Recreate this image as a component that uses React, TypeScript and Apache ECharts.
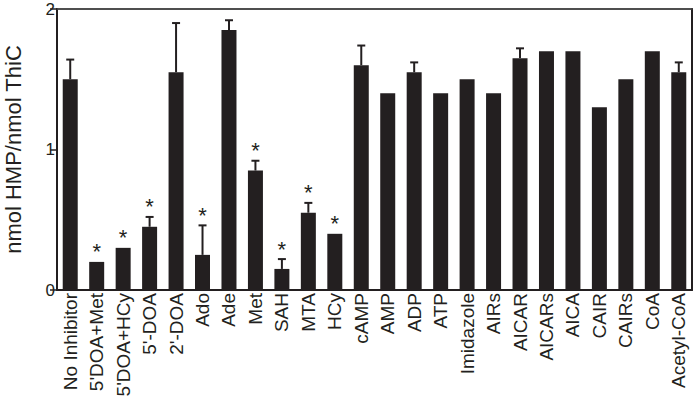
import React, { useEffect, useRef } from "react";
import * as echarts from "echarts";

const categories = [
  "No Inhibitor", "5'DOA+Met", "5'DOA+HCy", "5'-DOA", "2'-DOA", "Ado", "Ade", "Met",
  "SAH", "MTA", "HCy", "cAMP", "AMP", "ADP", "ATP", "Imidazole", "AIRs", "AICAR",
  "AICARs", "AICA", "CAIR", "CAIRs", "CoA", "Acetyl-CoA",
];
const means = [
  1.5, 0.2, 0.3, 0.45, 1.55, 0.25, 1.85, 0.85, 0.15, 0.55, 0.4, 1.6, 1.4, 1.55, 1.4,
  1.5, 1.4, 1.65, 1.7, 1.7, 1.3, 1.5, 1.7, 1.55,
];
const errors = [
  0.14, 0, 0, 0.07, 0.35, 0.21, 0.07, 0.07, 0.07, 0.07, 0, 0.14, 0, 0.07, 0, 0, 0,
  0.07, 0, 0, 0, 0, 0, 0.07,
];
const significant = [
  false, true, true, true, false, true, false, true, true, true, true, false, false,
  false, false, false, false, false, false, false, false, false, false, false,
];
const yTicks = [0, 1, 2];

const FONT = "'Liberation Sans', Arial, Helvetica, sans-serif";
const INK = "#231f20";

export default function App() {
  const ref = useRef<HTMLDivElement>(null);
  useEffect(() => {
    if (!ref.current) return;
    const chart = echarts.init(ref.current, undefined, { renderer: "svg" });
    const errData = categories.map((_, i) => [i, means[i], errors[i]]);
    const starData = categories
      .map((_, i) => [i, means[i] + errors[i], significant[i] ? 1 : 0])
      .filter((d) => d[2] === 1);
    chart.setOption({
      animation: false,
      grid: {
        left: 57,
        right: 2,
        top: 9,
        bottom: 116,
        outerBoundsMode: "none",
        containLabel: false,
        show: true,
        borderColor: "#444",
        borderWidth: 1.5,
      },
      xAxis: [
        {
          type: "category",
          data: categories,
          axisLine: { onZero: false, lineStyle: { color: INK, width: 2 } },
          axisTick: { length: 7, lineStyle: { color: INK, width: 1.5 } },
          axisLabel: {
            rotate: 90,
            interval: 0,
            margin: 3,
            fontFamily: FONT,
            fontSize: 19,
            color: INK,
          },
        },
        {
          type: "category",
          position: "top",
          data: categories,
          axisLine: { show: true, onZero: false, lineStyle: { color: "#444", width: 1.5 } },
          axisTick: { show: false },
          axisLabel: { show: false },
        },
      ],
      yAxis: [
        {
          type: "value",
          min: yTicks[0],
          max: yTicks[yTicks.length - 1],
          interval: 1,
          name: "nmol HMP/nmol ThiC",
          nameLocation: "middle",
          nameGap: 35,
          nameTextStyle: { fontFamily: FONT, fontSize: 22, lineHeight: 18, color: INK },
          axisLine: { show: true, onZero: false, lineStyle: { color: INK, width: 2 } },
          axisTick: { show: true, length: 7, lineStyle: { color: INK, width: 1.5 } },
          axisLabel: {
            margin: 2,
            fontFamily: FONT,
            fontSize: 17,
            color: INK,
          },
          splitLine: { show: false },
        },
        {
          type: "value",
          position: "right",
          min: 0,
          max: 2,
          interval: 1,
          axisLine: { show: true, onZero: false, lineStyle: { color: INK, width: 2 } },
          axisTick: { show: false },
          axisLabel: { show: false },
          splitLine: { show: false },
        },
      ],
      series: [
        {
          type: "bar",
          data: means,
          barWidth: 15,
          itemStyle: { color: INK },
        },
        {
          type: "custom",
          data: errData,
          z: 3,
          renderItem: (params: any, api: any) => {
            const x = api.value(0);
            const m = api.value(1);
            const e = api.value(2);
            if (!e) return null;
            const p0 = api.coord([x, m]);
            const p1 = api.coord([x, m + e]);
            const cap = 4;
            return {
              type: "group",
              children: [
                {
                  type: "line",
                  shape: { x1: p0[0], y1: p0[1], x2: p1[0], y2: p1[1] },
                  style: { stroke: INK, lineWidth: 2 },
                },
                {
                  type: "line",
                  shape: { x1: p1[0] - cap, y1: p1[1], x2: p1[0] + cap, y2: p1[1] },
                  style: { stroke: INK, lineWidth: 2 },
                },
              ],
            };
          },
        },
        {
          type: "custom",
          data: starData,
          z: 4,
          renderItem: (params: any, api: any) => {
            const p = api.coord([api.value(0), api.value(1)]);
            return {
              type: "text",
              x: p[0],
              y: p[1] + 1,
              style: {
                text: "*",
                fontFamily: FONT,
                fontSize: 22,
                fill: INK,
                align: "center",
                verticalAlign: "bottom",
              },
            };
          },
        },
      ],
    });
    return () => chart.dispose();
  }, []);
  return (
    <div
      style={{
        position: "fixed",
        left: 0,
        top: 0,
        width: 694,
        height: 406,
        background: "#fff",
      }}
    >
      <div ref={ref} style={{ width: 694, height: 406 }} />
    </div>
  );
}
